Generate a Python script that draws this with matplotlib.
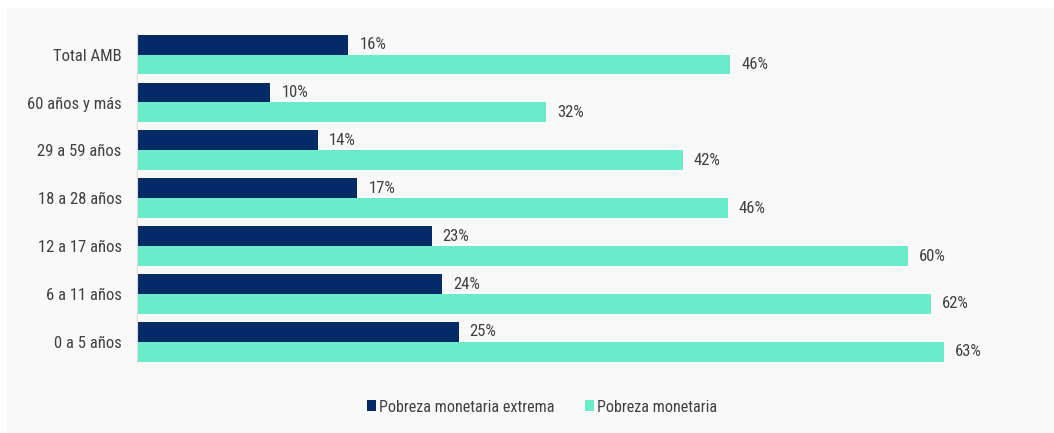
import matplotlib
matplotlib.use('Agg')
import matplotlib.pyplot as plt
from matplotlib.patches import Rectangle
import numpy as np

categorias = ['0 a 5 años', '6 a 11 años', '12 a 17 años', '18 a 28 años',
              '29 a 59 años', '60 años y más', 'Total AMB']
extrema = [25.1, 23.8, 23.0, 17.2, 14.1, 10.4, 16.5]
monetaria = [63.0, 62.0, 60.2, 46.1, 42.6, 31.9, 46.3]
etiq_extrema = ['25%', '24%', '23%', '17%', '14%', '10%', '16%']
etiq_monetaria = ['63%', '62%', '60%', '46%', '42%', '32%', '46%']
series = ['Pobreza monetaria extrema', 'Pobreza monetaria']

navy = '#042a68'
mint = '#6aebc9'
txt = '#404040'
plt.rcParams['font.family'] = ['Roboto Condensed', 'DejaVu Sans']
fs = 12

fig = plt.figure(figsize=(10.54, 4.33), dpi=100)
fig.patch.set_facecolor('white')
fig.patches.append(Rectangle((7/1054, 0), 1, 1 - 8/433, transform=fig.transFigure,
                             facecolor='#f9f9f9', edgecolor='none', zorder=-10))

ax = fig.add_axes([137/1054, 1 - 362/433, (1035 - 137)/1054, 329/433])
ax.set_facecolor('none')

y = np.arange(len(categorias))
h = 0.415
b1 = ax.barh(y + h/2, extrema, height=h, color=navy, label=series[0])
b2 = ax.barh(y - h/2, monetaria, height=h, color=mint, label=series[1])

for bars, labs in ((b1, etiq_extrema), (b2, etiq_monetaria)):
    for r, s in zip(bars, labs):
        ax.annotate(s, (r.get_width(), r.get_y() + r.get_height()/2),
                    xytext=(8, 0), textcoords='offset points', va='center',
                    ha='left', fontsize=fs, color=txt)

ax.set_xlim(0, 70.1)
ax.set_ylim(-0.42, 6.45)
ax.set_yticks(y)
ax.set_yticklabels(categorias, fontsize=fs, color=txt)
ax.set_xticks([])
ax.tick_params(axis='y', length=0, pad=11)
for s in ('top', 'right', 'bottom'):
    ax.spines[s].set_visible(False)
ax.spines['left'].set_color('#d9d9d9')

fig.legend(handles=[b1, b2], labels=series, loc='center', ncol=2,
           bbox_to_anchor=(542/1054, 1 - 407/433), frameon=False,
           fontsize=11.6, handlelength=0.55, handleheight=0.65, handletextpad=0.2,
           columnspacing=1.9, labelcolor=txt)

fig.savefig('out.png', dpi=100, facecolor=fig.get_facecolor())
